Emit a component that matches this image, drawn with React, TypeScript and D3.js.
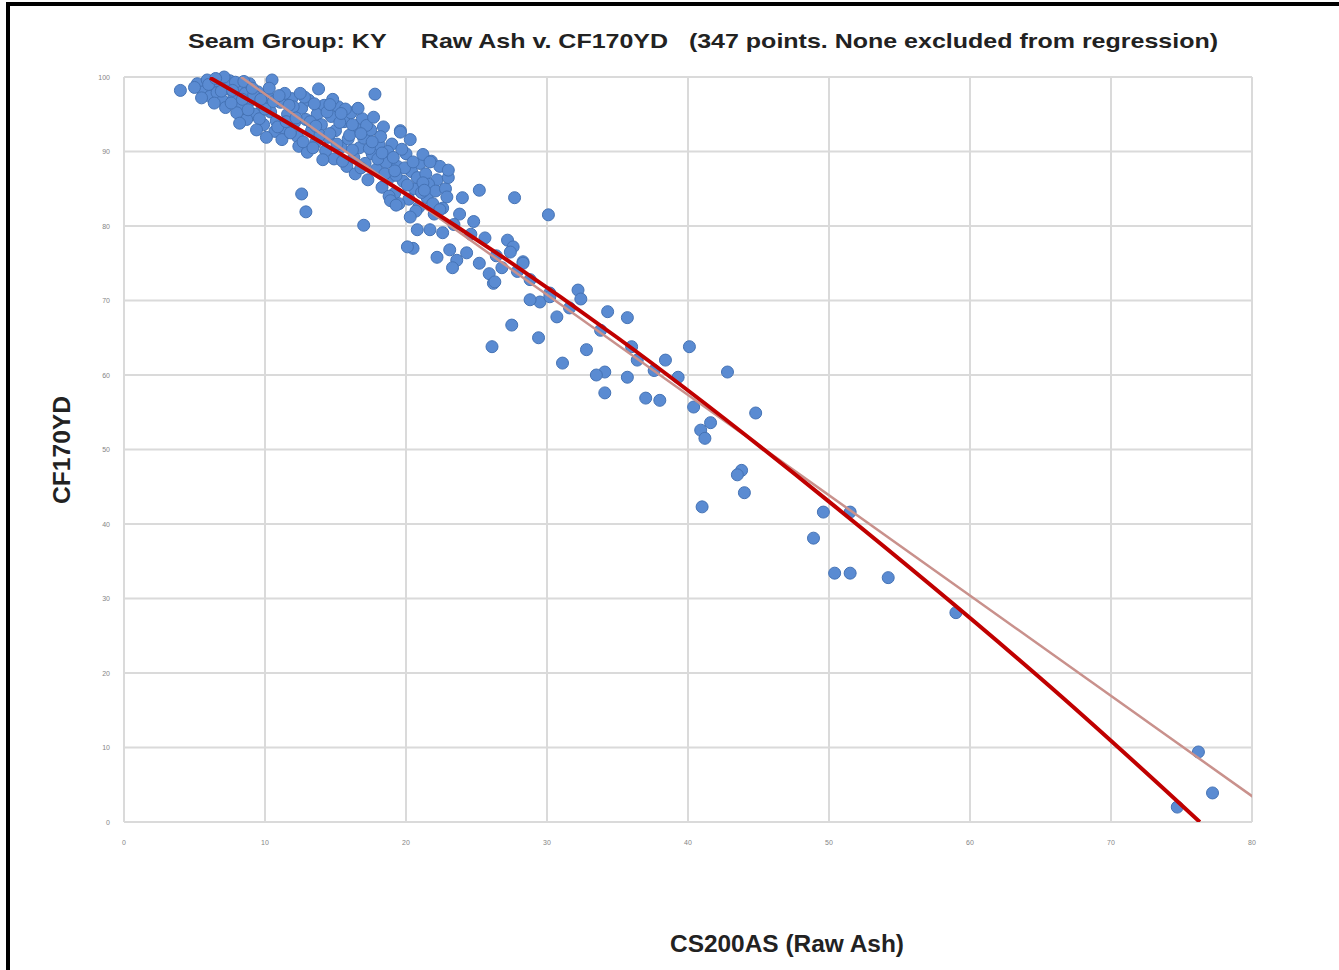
import { useEffect, useRef } from 'react'
import * as d3 from 'd3'

const WIDTH = 1339
const HEIGHT = 970
const PLOT = { left: 124, right: 1252, top: 77, bottom: 822 }
const LABEL_FONT = "'Liberation Sans Narrow', 'Liberation Sans', Arial, sans-serif"

const TITLE = 'Seam Group: KY     Raw Ash v. CF170YD   (347 points. None excluded from regression)'
const X_LABEL = 'CS200AS (Raw Ash)'
const Y_LABEL = 'CF170YD'

const X_TICKS = [0, 10, 20, 30, 40, 50, 60, 70, 80]
const Y_TICKS = [0, 10, 20, 30, 40, 50, 60, 70, 80, 90, 100]

// dense low-ash cluster (x = raw ash, y = yield)
const CLUSTER_POINTS = [
  [4.0, 98.2], [5.2, 99.1], [5.6, 98.0], [5.9, 99.6], [6.3, 98.6], [6.1, 97.4], [6.8, 99.2], [6.6, 97.9],
  [7.0, 96.8], [7.3, 98.4], [7.5, 99.5], [7.8, 97.3], [7.2, 95.9], [8.1, 98.8], [8.3, 96.4], [8.6, 97.8],
  [8.0, 95.2], [8.9, 99.1], [9.0, 96.9], [9.3, 95.0], [9.5, 98.0], [8.7, 94.3], [9.8, 96.2], [9.9, 93.6],
  [10.2, 97.4], [10.5, 99.6], [10.4, 95.3], [10.8, 94.1], [10.7, 92.7], [11.1, 96.6], [11.3, 93.2], [11.6, 95.0],
  [11.2, 91.6], [11.9, 97.1], [12.1, 93.9], [12.3, 92.0], [12.6, 95.8], [12.4, 90.7], [12.9, 94.3], [13.1, 96.9],
  [13.3, 92.8], [13.0, 89.9], [13.6, 91.2], [13.8, 98.4], [13.7, 95.0], [14.0, 93.6], [14.2, 96.2], [14.3, 90.1],
  [14.5, 91.9], [14.7, 94.7], [14.9, 89.0], [15.0, 92.8], [15.2, 96.0], [15.4, 90.6], [15.6, 94.0], [15.8, 88.0],
  [15.9, 91.7], [16.1, 95.2], [16.3, 89.2], [16.5, 93.0], [16.4, 87.0], [16.7, 90.5], [16.9, 94.4], [17.1, 88.4],
  [17.0, 91.8], [17.3, 86.2], [17.5, 92.9], [17.8, 97.7], [17.6, 89.7], [17.9, 87.6], [18.1, 90.9], [18.3, 85.2],
  [18.4, 93.3], [18.6, 88.5], [18.9, 86.6], [19.0, 91.0], [19.2, 84.4], [19.6, 92.8], [19.4, 88.0], [19.8, 86.0],
  [20.0, 89.7], [20.2, 83.6], [20.4, 87.3], [20.6, 85.0], [20.9, 82.5], [21.0, 88.4], [21.3, 85.4], [21.8, 88.7],
  [21.5, 83.8], [22.0, 81.6], [22.2, 86.2],
  [5.0, 98.6], [5.5, 97.2], [6.0, 99.0], [6.4, 96.5], [6.9, 98.1], [7.1, 100], [7.6, 96.5], [7.9, 99.3],
  [8.4, 97.0], [8.2, 93.8], [8.8, 95.6], [9.2, 97.6], [9.6, 94.4], [9.4, 92.9], [10.0, 95.7], [10.3, 98.5],
  [10.1, 91.9], [10.6, 96.7], [10.9, 93.3], [11.4, 97.8], [11.5, 94.0], [11.8, 92.5], [12.0, 96.0], [12.2, 94.5],
  [12.7, 91.3], [12.8, 97.3], [13.2, 94.0], [13.4, 90.5], [13.5, 96.4], [13.9, 92.2], [14.1, 88.9], [14.4, 95.3],
  [14.6, 92.4], [14.8, 97.0], [15.1, 91.0], [15.3, 93.9], [15.5, 88.7], [15.7, 95.7], [16.0, 92.2], [16.2, 90.2],
  [16.6, 95.8], [16.8, 87.8], [17.2, 93.5], [17.4, 90.4], [17.7, 94.6], [18.0, 89.0], [18.2, 92.0], [18.5, 87.0],
  [18.7, 90.0], [18.8, 84.0], [19.1, 89.2], [19.3, 86.8], [19.5, 83.0], [19.7, 90.3], [19.9, 87.8], [20.1, 85.5],
  [20.3, 91.6], [20.5, 88.6], [20.7, 82.0], [20.8, 86.5], [21.1, 84.5], [21.2, 89.6], [21.4, 87.0], [21.6, 85.6],
  [21.9, 83.0], [22.1, 84.7], [22.4, 88.0], [22.6, 82.4], [22.8, 85.0], [23.0, 86.5],
  [6.5, 99.8], [7.7, 98.2], [8.5, 99.4], [9.1, 98.5], [9.7, 97.0], [11.0, 97.5], [11.7, 96.2], [12.5, 97.8],
  [13.6, 93.4], [14.6, 96.3], [15.4, 95.1], [16.2, 93.6], [16.8, 92.4], [17.6, 91.3], [18.3, 89.8], [19.2, 87.4],
  [12.6, 84.3], [12.9, 81.9], [17.0, 80.1], [19.6, 92.6],
]

// transition band, ash 20 to 31
const BAND_POINTS = [
  [21.7, 88.6], [23.0, 87.5], [25.2, 84.8], [27.7, 83.8], [30.1, 81.5], [21.2, 85.8], [21.3, 84.8], [22.9, 83.9],
  [24.0, 83.8], [18.9, 83.4], [19.3, 82.8], [20.3, 81.2], [20.8, 79.5], [21.7, 79.5], [22.6, 79.1], [23.1, 76.8],
  [23.6, 75.4], [24.3, 76.4], [25.2, 75.0], [20.5, 77.0], [20.1, 77.2], [22.2, 75.8], [23.3, 74.4], [26.2, 72.3],
  [27.2, 78.1], [27.6, 77.2], [28.3, 75.2], [29.5, 69.8], [30.2, 71.0], [24.8, 80.6], [25.6, 78.4], [26.4, 76.0],
  [23.8, 81.6], [22.4, 82.2], [24.6, 78.9], [26.8, 74.4], [25.9, 73.6], [28.8, 72.8], [27.9, 73.9], [23.4, 80.2],
]

// scattered higher-ash samples
const SPREAD_POINTS = [
  [26.1, 63.8], [27.5, 66.7], [29.4, 65.0], [31.1, 61.6], [32.8, 63.4], [28.8, 70.1], [30.2, 70.5], [30.7, 67.8],
  [32.2, 71.4], [34.3, 68.5], [35.7, 67.7], [33.8, 66.0], [36.0, 63.8], [36.4, 62.0], [34.1, 60.4], [33.5, 60.0],
  [35.7, 59.7], [34.1, 57.6], [37.0, 56.9], [38.0, 56.6], [38.4, 62.0], [39.3, 59.7], [40.1, 63.8], [40.4, 55.7],
  [40.9, 52.6], [41.2, 51.5], [42.8, 60.4], [44.8, 54.9], [43.8, 47.2], [43.5, 46.6], [44.0, 44.2], [41.0, 42.3],
  [28.3, 75.0], [26.3, 72.5], [27.4, 76.5], [31.6, 69.0], [32.4, 70.2], [37.6, 60.6], [41.6, 53.6],
  [49.6, 41.6], [51.5, 41.6], [48.9, 38.1], [50.4, 33.4], [51.5, 33.4], [54.2, 32.8], [59.0, 28.1],
  [76.2, 9.4], [77.2, 3.9], [74.7, 2.0],
]

// fitted curves
const CURVE_X = [6.1, 20, 35, 50, 65, 76.3]
const CURVE_Y = [99.9, 84.3, 65.0, 43.0, 19.3, 0]
const LINEAR_X = [8.3, 80.2]
const LINEAR_Y = [100, 3.2]

export default function App() {
  const svgRef = useRef<SVGSVGElement | null>(null)

  useEffect(() => {
    const svg = d3.select(svgRef.current)
    svg.selectAll('*').remove()

    const x = d3.scaleLinear().domain([0, 80]).range([PLOT.left, PLOT.right])
    const y = d3.scaleLinear().domain([0, 100]).range([PLOT.bottom, PLOT.top])

    svg.append('rect').attr('width', WIDTH).attr('height', HEIGHT).attr('fill', '#fff')

    // frame
    svg
      .append('path')
      .attr('d', `M8,${HEIGHT} L8,4 L${WIDTH},4`)
      .attr('fill', 'none')
      .attr('stroke', '#000')
      .attr('stroke-width', 4)

    const grid = svg.append('g')
    grid
      .selectAll('line.h')
      .data(Y_TICKS)
      .join('line')
      .attr('x1', PLOT.left)
      .attr('x2', PLOT.right)
      .attr('y1', (d) => y(d))
      .attr('y2', (d) => y(d))
      .attr('stroke', '#dadada')
      .attr('stroke-width', 2)
    grid
      .selectAll('line.v')
      .data(X_TICKS)
      .join('line')
      .attr('x1', (d) => x(d))
      .attr('x2', (d) => x(d))
      .attr('y1', PLOT.top)
      .attr('y2', PLOT.bottom)
      .attr('stroke', '#dadada')
      .attr('stroke-width', 2)

    svg
      .append('g')
      .selectAll('text')
      .data(Y_TICKS)
      .join('text')
      .attr('x', PLOT.left - 14)
      .attr('y', (d) => y(d) + 2.5)
      .attr('text-anchor', 'end')
      .attr('font-family', 'Liberation Sans, Arial, sans-serif')
      .attr('font-size', 7)
      .attr('fill', '#858585')
      .text((d) => d)

    svg
      .append('g')
      .selectAll('text')
      .data(X_TICKS)
      .join('text')
      .attr('x', (d) => x(d))
      .attr('y', PLOT.bottom + 23)
      .attr('text-anchor', 'middle')
      .attr('font-family', 'Liberation Sans, Arial, sans-serif')
      .attr('font-size', 7)
      .attr('fill', '#858585')
      .text((d) => d)

    svg
      .append('clipPath')
      .attr('id', 'plot-clip')
      .append('rect')
      .attr('x', PLOT.left)
      .attr('y', PLOT.top)
      .attr('width', PLOT.right - PLOT.left)
      .attr('height', PLOT.bottom - PLOT.top)

    const allPoints = [...CLUSTER_POINTS, ...BAND_POINTS, ...SPREAD_POINTS]
    svg
      .append('g')
      .selectAll('circle')
      .data(allPoints)
      .join('circle')
      .attr('cx', (d) => x(d[0]))
      .attr('cy', (d) => y(d[1]))
      .attr('r', 6)
      .attr('fill', '#5a8bd2')
      .attr('stroke', '#4573b5')
      .attr('stroke-width', 1)

    const lines = svg.append('g').attr('clip-path', 'url(#plot-clip)')
    const linear = d3
      .line<number>()
      .x((d) => x(LINEAR_X[d]))
      .y((d) => y(LINEAR_Y[d]))
    lines
      .append('path')
      .attr('d', linear(LINEAR_X.map((_, i) => i)))
      .attr('fill', 'none')
      .attr('stroke', '#c9918c')
      .attr('stroke-width', 2.5)

    const curve = d3
      .line<number>()
      .x((d) => x(CURVE_X[d]))
      .y((d) => y(CURVE_Y[d]))
      .curve(d3.curveNatural)
    lines
      .append('path')
      .attr('d', curve(CURVE_X.map((_, i) => i)))
      .attr('fill', 'none')
      .attr('stroke', '#c00000')
      .attr('stroke-width', 4)

    svg
      .append('text')
      .attr('x', 703)
      .attr('y', 48)
      .attr('text-anchor', 'middle')
      .attr('font-family', LABEL_FONT)
      .attr('font-weight', 700)
      .attr('font-size', 21)
      .attr('fill', '#222')
      .attr('textLength', 1030)
      .attr('lengthAdjust', 'spacingAndGlyphs')
      .style('white-space', 'pre')
      .text(TITLE)

    svg
      .append('text')
      .attr('transform', `translate(70,450) rotate(-90)`)
      .attr('text-anchor', 'middle')
      .attr('font-family', LABEL_FONT)
      .attr('font-weight', 700)
      .attr('font-size', 23)
      .attr('fill', '#222')
      .attr('textLength', 108)
      .attr('lengthAdjust', 'spacingAndGlyphs')
      .text(Y_LABEL)

    svg
      .append('text')
      .attr('x', 787)
      .attr('y', 952)
      .attr('text-anchor', 'middle')
      .attr('font-family', LABEL_FONT)
      .attr('font-weight', 700)
      .attr('font-size', 23)
      .attr('fill', '#222')
      .attr('textLength', 234)
      .attr('lengthAdjust', 'spacingAndGlyphs')
      .text(X_LABEL)
  }, [])

  return (
    <svg
      ref={svgRef}
      width={WIDTH}
      height={HEIGHT}
      style={{ position: 'absolute', left: 0, top: 0, display: 'block' }}
    />
  )
}
